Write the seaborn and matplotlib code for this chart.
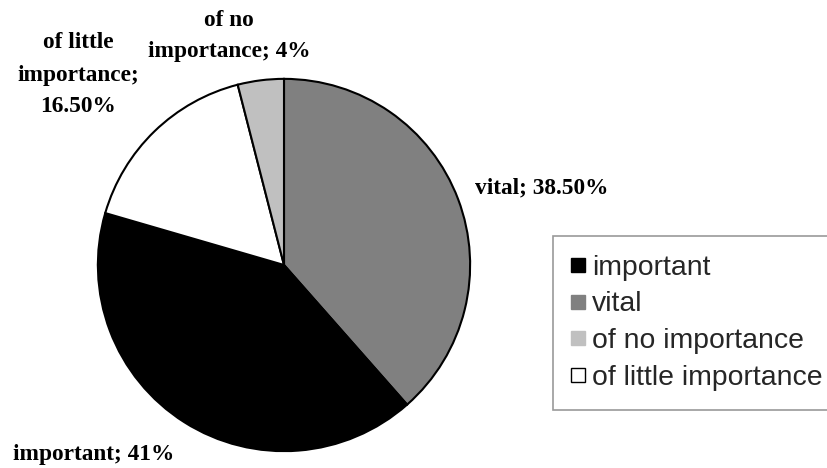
import matplotlib
matplotlib.use("Agg")
import matplotlib.pyplot as plt
import seaborn as sns
from matplotlib.lines import Line2D

# Data
categories = ["vital", "important", "of little importance", "of no importance"]
values = [38.5, 41.0, 16.5, 4.0]
value_labels = ["38.50%", "41%", "16.50%", "4%"]
colors = ["#808080", "#000000", "#ffffff", "#c0c0c0"]
legend_order = ["important", "vital", "of no importance", "of little importance"]

sns.set_theme(style="white")
plt.rcParams["font.family"] = ["Liberation Serif", "DejaVu Serif"]

W, H = 827, 468
fig = plt.figure(figsize=(W / 100, H / 100), dpi=100)
fig.patch.set_facecolor("white")

cx, cy, r = 284, 265, 188
ax = fig.add_axes([(cx - r) / W, (H - cy - r) / H, 2 * r / W, 2 * r / H])
ax.pie(values, colors=colors, startangle=90, counterclock=False,
       wedgeprops=dict(edgecolor="black", linewidth=1.5), radius=1.0)
ax.set_xlim(-1.01, 1.01)
ax.set_ylim(-1.01, 1.01)
ax.set_aspect("equal")
ax.axis("off")

def ftext(x, y, s, ha="center"):
    fig.text(x / W, 1 - y / H, s, ha=ha, va="baseline", fontsize=16.8,
             fontweight="bold", color="black",
             family=["Liberation Serif", "DejaVu Serif"])

lab = dict(zip(categories, value_labels))
ftext(542, 193, f"vital; {lab['vital']}")
ftext(13, 460, f"important; {lab['important']}", ha="left")
ftext(78, 48, "of little")
ftext(78, 81, "importance;")
ftext(78, 112, lab["of little importance"])
ftext(229, 26, "of no")
ftext(229, 57, f"importance; {lab['of no importance']}")

cmap = dict(zip(categories, colors))
handles = [Line2D([], [], linestyle="none", marker="s", markersize=9.5,
                  markerfacecolor=cmap[c],
                  markeredgecolor="black" if c in ("important", "of little importance") else cmap[c],
                  markeredgewidth=1.0)
           for c in legend_order]
leg = fig.legend(handles, legend_order, loc="upper left",
                 bbox_to_anchor=(553 / W, 1 - 236 / H), borderaxespad=0,
                 frameon=True, fancybox=False, shadow=False,
                 prop={"family": ["Liberation Sans", "DejaVu Sans"], "size": 20.4},
                 handlelength=0.45, handletextpad=0.27, labelspacing=0.38,
                 borderpad=0.66)
leg.get_frame().set_edgecolor("#808080")
leg.get_frame().set_linewidth(1.2)
leg.get_frame().set_facecolor("white")

fig.savefig("out.png", dpi=100)
